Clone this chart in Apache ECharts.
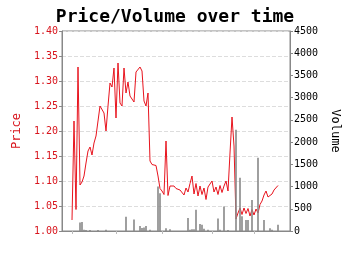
<!DOCTYPE html>
<html><head><meta charset="utf-8">
<script src="https://cdn.jsdelivr.net/npm/echarts@6/dist/echarts.min.js"></script>
<style>html,body{margin:0;padding:0;background:#fff}#c{width:350px;height:255px}</style>
</head><body><div id="c"></div>
<script>
const title = 'Price/Volume over time';
const priceTicks = [1.00,1.05,1.10,1.15,1.20,1.25,1.30,1.35,1.40];
const volumeTicks = [0,500,1000,1500,2000,2500,3000,3500,4000,4500];
const price = [
 null,null,null,null,null,
 1.022,1.22,1.043,1.328,1.092,1.098,1.11,1.136,1.16,1.168,
 1.152,1.176,1.19,1.22,1.25,1.248,1.236,1.20,1.25,1.296,
 1.288,1.326,1.226,1.336,1.256,1.25,1.326,1.276,1.298,1.27,
 1.27,1.258,1.318,1.318,1.328,1.32,1.26,1.25,1.276,1.14,
 1.133,1.132,1.131,1.11,1.085,1.08,1.073,1.18,1.071,1.09,
 1.09,1.09,1.085,1.081,1.082,1.082,1.072,1.086,1.078,1.095,
 1.11,1.074,1.095,1.07,1.09,1.073,1.086,1.063,1.088,1.089,
 1.10,1.078,1.088,1.073,1.091,1.077,1.09,1.10,1.08,1.156,
 1.228,1.17,1.024,1.036,1.046,1.033,1.046,1.035,1.045,1.03,
 1.043,1.032,1.044,1.036,1.053,1.06,1.072,1.08,1.068,1.064,
 1.074,1.082,1.082,1.091,
 null,null,null,null,null,null
];
const volume = [
 0,0,0,0,0,0,0,0,0,190,
 200,30,20,0,20,0,0,0,20,0,
 0,0,30,0,0,0,0,0,0,0,
 0,0,320,0,0,0,260,0,0,110,
 70,80,110,0,30,0,0,0,1000,850,
 0,0,60,0,40,0,0,0,0,0,
 0,0,0,290,30,40,40,480,0,160,
 140,50,0,30,0,0,0,0,280,30,
 0,550,0,20,0,0,0,2280,0,1200,
 330,0,250,250,0,700,0,0,1650,0,
 0,250,0,0,60,30,0,0,140,0,
 0,0,0,0,0
];
const tickIndices = [5,27,50,75,96];
const categories = price.map((_, i) => 'd' + i);

const mono = 'DejaVu Sans Mono';
const chart = echarts.init(document.getElementById('c'), null, {renderer:'canvas'});
chart.setOption({
  animation:false,
  backgroundColor:'#fff',
  title:{text:title,left:'center',top:3,textStyle:{fontFamily:mono,fontWeight:'bold',fontSize:18,color:'#000'}},
  grid:{left:62,right:60,top:31,bottom:24,show:true,borderColor:'#888',borderWidth:1},
  xAxis:{type:'category',data:categories,boundaryGap:false,
    axisLine:{lineStyle:{color:'#888'}},
    axisTick:{show:true,length:3,lineStyle:{color:'#bbb'},interval:(i)=>tickIndices.includes(i)},
    axisLabel:{show:false},splitLine:{show:false}},
  yAxis:[
    {type:'value',min:priceTicks[0],max:priceTicks[priceTicks.length-1],interval:0.05,position:'left',
     name:'Price',nameLocation:'middle',nameGap:36,
     nameTextStyle:{color:'#d8141c',fontFamily:mono,fontSize:12},
     axisLine:{show:true,lineStyle:{color:'#888'}},
     axisTick:{show:true,length:3,lineStyle:{color:'#888'}},
     axisLabel:{color:'#d8141c',fontFamily:mono,fontSize:10,margin:4,formatter:v=>v.toFixed(2)},
     splitLine:{show:true,lineStyle:{color:'#ddd',type:'dashed'}}},
    {type:'value',min:volumeTicks[0],max:volumeTicks[volumeTicks.length-1],interval:500,position:'right',
     name:'Volume',nameLocation:'middle',nameGap:38,nameRotate:-90,
     nameTextStyle:{color:'#000',fontFamily:mono,fontSize:12},
     axisLine:{show:true,lineStyle:{color:'#888'}},
     axisTick:{show:true,length:3,lineStyle:{color:'#888'}},
     axisLabel:{color:'#000',fontFamily:mono,fontSize:10,margin:4,formatter:v=>String(v)},
     splitLine:{show:false}}
  ],
  series:[
    {type:'line',data:price,yAxisIndex:0,showSymbol:false,symbol:'none',
     lineStyle:{color:'#e8141e',width:1},z:2},
    {type:'bar',data:volume,yAxisIndex:1,barWidth:1.6,
     itemStyle:{color:'#888'},z:3}
  ]
});
</script></body></html>
